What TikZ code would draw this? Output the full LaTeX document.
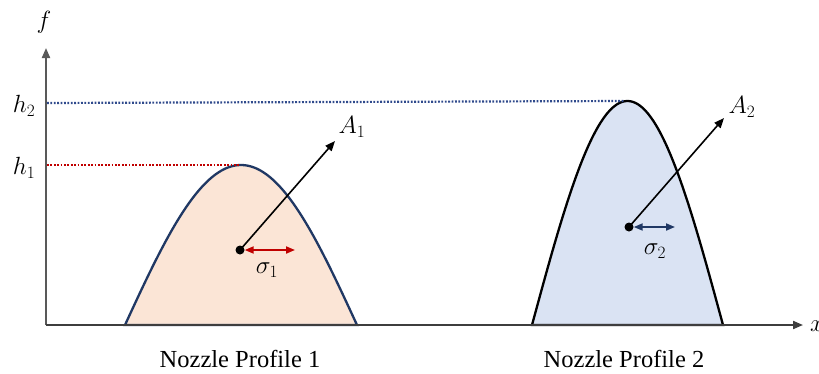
\documentclass[tikz,border=0pt]{standalone}
\usepackage{fontspec}
\setmainfont{Liberation Serif}
\usetikzlibrary{arrows.meta}
\definecolor{navy}{HTML}{203864}
\definecolor{dotblue}{HTML}{2F4A8C}
\definecolor{darkred}{HTML}{C00000}
\definecolor{peach}{HTML}{FBE5D6}
\definecolor{paleblue}{HTML}{DAE3F3}
\definecolor{axisgray}{HTML}{595959}
\begin{document}
\begin{tikzpicture}[x=1pt,y=-1pt,
  axis/.style={line width=2pt, draw=axisgray, -{Triangle[length=10pt,width=8pt]}},
  guide/.style={line width=2.2pt, dash pattern=on 1.8pt off 1.6pt},
  profile/.style={line width=2.3pt},
  dotnode/.style={circle, fill=black, inner sep=0pt, minimum size=9pt},
  vec/.style={line width=1.6pt, -{Triangle[length=10pt,width=8pt]}},
  spread/.style={line width=1.8pt, {Triangle[length=9pt,width=7pt]}-{Triangle[length=9pt,width=7pt]}},
  mlabel/.style={font=\fontsize{25}{29}\selectfont, inner sep=0pt},
  caption/.style={font=\fontsize{24.5}{28}\selectfont, inner sep=0pt}]
\useasboundingbox (0,0) rectangle (819,373);
% profiles
\draw[profile, draw=navy, fill=peach] plot[domain=125:357, samples=100, smooth] (\x, {325-160*cos((\x-241)/232*180)}) -- cycle;
\draw[profile, draw=black, fill=paleblue] plot[domain=532:723, samples=100, smooth] (\x, {325-224*cos((\x-627.5)/191*180)}) -- cycle;
% axes
\coordinate (origin) at (46,325);
\coordinate (ytip) at (46,48);
\coordinate (xtip) at (803,325);
\draw[axis] (origin) -- (ytip);
\draw[axis, draw=axisgray!70!black] (origin) -- (xtip);
\node[mlabel] (flab) at (44,22) {$f$};
\node[mlabel, anchor=west] (xlab) at (810,326) {$x$};
% guides
\coordinate (h1a) at (47,165);
\coordinate (h1b) at (240,165);
\coordinate (h2a) at (47,103);
\coordinate (h2b) at (624,101);
\draw[guide, darkred] (h1a) -- (h1b);
\draw[guide, dotblue] (h2a) -- (h2b);
\node[mlabel] (h1lab) at (24,168) {$h_1$};
\node[mlabel] (h2lab) at (24,106) {$h_2$};
% profile 1 marks
\node[dotnode] (d1) at (240,250) {};
\coordinate (a1tip) at (335,141);
\coordinate (s1tip) at (295,250);
\draw[vec] (d1.center) -- (a1tip);
\draw[spread, darkred] (d1.east) -- (s1tip);
\node[mlabel] (a1lab) at (352,127) {$A_1$};
\node[mlabel] (s1lab) at (267,270) {$\sigma_1$};
% profile 2 marks
\node[dotnode] (d2) at (629,227) {};
\coordinate (a2tip) at (724,118);
\coordinate (s2tip) at (675,227);
\draw[vec] (d2.center) -- (a2tip);
\draw[spread, navy] (d2.east) -- (s2tip);
\node[mlabel] (a2lab) at (742,107) {$A_2$};
\node[mlabel] (s2lab) at (655,251) {$\sigma_2$};
% captions
\node[caption] (cap1) at (240,359) {Nozzle Profile 1};
\node[caption] (cap2) at (624,359) {Nozzle Profile 2};
\end{tikzpicture}
\end{document}
